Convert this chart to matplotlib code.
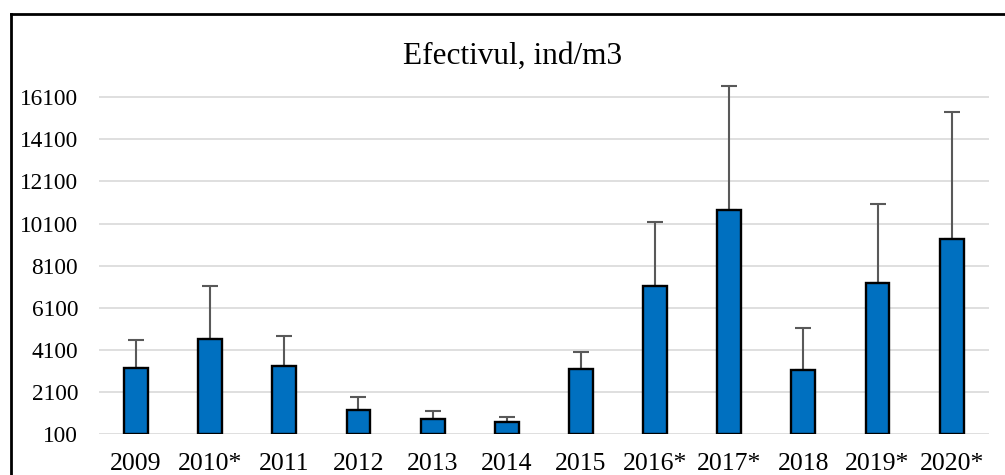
import numpy as np
import matplotlib.pyplot as plt
from matplotlib.lines import Line2D

# data
years = ['2009', '2010*', '2011', '2012', '2013', '2014', '2015',
         '2016*', '2017*', '2018', '2019*', '2020*']
efectiv = [3220, 4610, 3320, 1240, 810, 690, 3190,
           7150, 10740, 3140, 7260, 9360]
err_plus = [1330, 2520, 1450, 600, 370, 230, 810,
            3020, 5890, 2000, 3780, 6040]
yticks = [100, 2100, 4100, 6100, 8100, 10100, 12100, 14100, 16100]

plt.rcParams['font.family'] = ['Liberation Serif', 'DejaVu Serif']

fig = plt.figure(figsize=(10.05, 4.75), dpi=100)
ax = fig.add_axes([0.0985, 0.0863, 0.8853, 0.74])

x = np.arange(len(years))
base = yticks[0]
heights = [v - base for v in efectiv]
ax.bar(x, heights, bottom=base, width=0.32, color='#0070C0',
       edgecolor='black', linewidth=1.7, zorder=3)
ax.errorbar(x, efectiv, yerr=[np.zeros(len(x)), err_plus], fmt='none',
            ecolor='#595959', elinewidth=1.5, capsize=6, capthick=1.5,
            zorder=2, clip_on=False)

ax.set_xlim(-0.5, len(years) - 0.5)
ax.set_ylim(base, 16800)
ax.set_yticks(yticks)
ax.set_xticks(x)
ax.set_xticklabels(years, fontsize=18.5)
ax.tick_params(axis='y', labelsize=16.8, length=0, pad=15)
ax.tick_params(axis='x', length=0, pad=14)
ax.yaxis.grid(True, color='#D9D9D9', linewidth=1.2, zorder=0)
ax.set_axisbelow(True)
for s in ax.spines.values():
    s.set_visible(False)

fig.text(0.51, 0.865, 'Efectivul, ind/m3', ha='center', va='baseline',
         fontsize=22.5)

# chart area border (cropped on right and bottom)
x0 = 10.5 / 1005
ytop = 1 - 14 / 475
fig.add_artist(Line2D([x0, 1.0], [ytop, ytop], color='black', linewidth=2))
fig.add_artist(Line2D([x0, x0], [ytop, 0.0], color='black', linewidth=2))

fig.savefig('out.png', dpi=100)
